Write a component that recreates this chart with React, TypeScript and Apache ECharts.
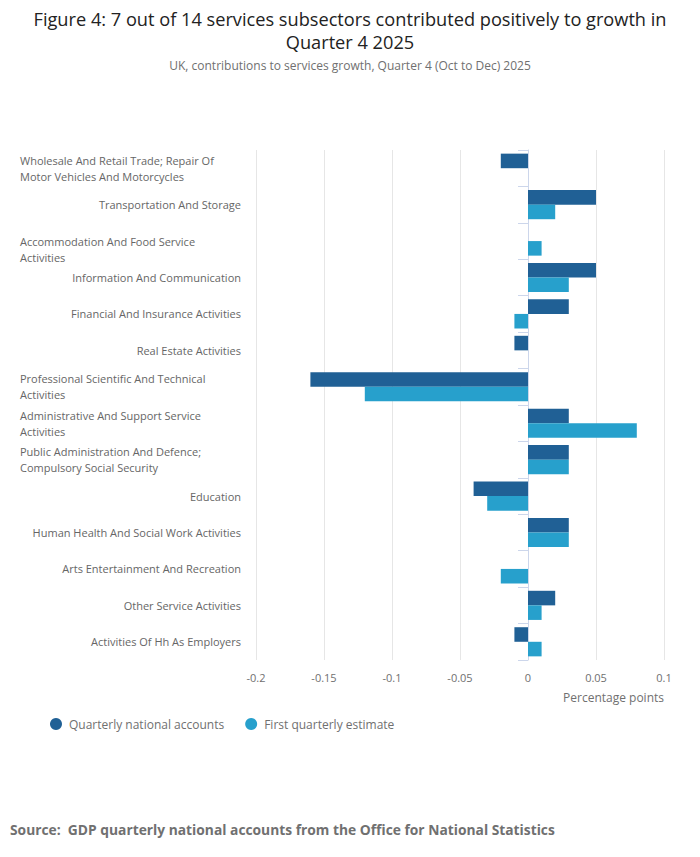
import { useEffect, useRef } from "react";
import * as echarts from "echarts";

const FONT = "'Open Sans', 'Noto Sans', sans-serif";
const DARK = "#206095";
const LIGHT = "#27a0cc";

const categories = [
  "Wholesale And Retail Trade; Repair Of\nMotor Vehicles And Motorcycles",
  "Transportation And Storage",
  "Accommodation And Food Service\nActivities",
  "Information And Communication",
  "Financial And Insurance Activities",
  "Real Estate Activities",
  "Professional Scientific And Technical\nActivities",
  "Administrative And Support Service\nActivities",
  "Public Administration And Defence;\nCompulsory Social Security",
  "Education",
  "Human Health And Social Work Activities",
  "Arts Entertainment And Recreation",
  "Other Service Activities",
  "Activities Of Hh As Employers",
];

const quarterlyNational = [-0.02, 0.05, 0, 0.05, 0.03, -0.01, -0.16, 0.03, 0.03, -0.04, 0.03, 0, 0.02, -0.01];
const firstEstimate = [0, 0.02, 0.01, 0.03, -0.01, 0, -0.12, 0.08, 0.03, -0.03, 0.03, -0.02, 0.01, 0.01];

const seriesNames = ["Quarterly national accounts", "First quarterly estimate"];

// the accommodation label sits half a block lower in the original
const LOWERED_LABEL = 2;

function formatCategory(value: string, index: number) {
  if (value.includes("\n")) {
    const lines = value.split("\n").map((line) => `{l|${line}}`);
    if (index === LOWERED_LABEL) {
      lines.unshift("{e| }");
    }
    return lines.join("\n");
  }
  return `{s|${value}}`;
}

export default function App() {
  const chartRef = useRef<HTMLDivElement>(null);

  useEffect(() => {
    document.body.style.margin = "0";
    if (!chartRef.current) {
      return;
    }
    const chart = echarts.init(chartRef.current, null, { renderer: "svg" });

    const labelText = {
      fontSize: 11,
      lineHeight: 16,
      color: "#666666",
      fontFamily: FONT,
    };

    chart.setOption({
      animation: false,
      textStyle: { fontFamily: FONT },
      title: {
        text: "Figure 4: 7 out of 14 services subsectors contributed positively to growth in\nQuarter 4 2025",
        subtext: "UK, contributions to services growth, Quarter 4 (Oct to Dec) 2025",
        left: "center",
        top: 2,
        itemGap: 6.5,
        textStyle: {
          fontFamily: FONT,
          fontSize: 18.2,
          fontWeight: "normal",
          color: "#222222",
          lineHeight: 23,
        },
        subtextStyle: {
          fontFamily: FONT,
          fontSize: 12,
          color: "#707070",
        },
      },
      legend: {
        left: 45,
        top: 713,
        icon: "circle",
        itemWidth: 12,
        itemHeight: 12,
        itemGap: 21,
        data: seriesNames,
        textStyle: { fontFamily: FONT, fontSize: 12, color: "#707070", padding: [0, 0, 0, 2] },
      },
      grid: {
        left: 256,
        right: 36,
        top: 150,
        bottom: 197,
        containLabel: false,
      },
      xAxis: {
        type: "value",
        min: -0.2,
        max: 0.1,
        interval: 0.05,
        axisLine: { show: false },
        axisTick: { show: false },
        axisLabel: {
          color: "#707070",
          fontSize: 11,
          margin: 12,
          formatter: (v: number) => String(Number(v.toFixed(2))),
        },
        splitLine: { lineStyle: { color: "#e6e6e6", width: 1 } },
      },
      yAxis: {
        type: "category",
        inverse: true,
        data: categories,
        axisLine: { show: true, lineStyle: { color: "#ccd6eb" } },
        axisTick: {
          show: true,
          length: 10,
          interval: 0,
          lineStyle: { color: "#ccd6eb" },
        },
        axisLabel: {
          interval: 0,
          margin: 15,
          color: "#666666",
          fontSize: 11,
          formatter: formatCategory,
          rich: {
            l: { ...labelText, width: 221, align: "left" },
            e: { ...labelText, width: 221 },
            s: { ...labelText },
          },
        },
      },
      graphic: [
        {
          type: "text",
          x: 664,
          y: 697,
          style: {
            text: "Percentage points",
            align: "right",
            verticalAlign: "middle",
            fontSize: 12,
            fill: "#707070",
            fontFamily: FONT,
          },
        },
        {
          type: "text",
          x: 10,
          y: 829,
          style: {
            text: "Source:  GDP quarterly national accounts from the Office for National Statistics",
            verticalAlign: "middle",
            fontSize: 13.8,
            fontWeight: "bold",
            fill: "#707070",
            fontFamily: FONT,
          },
        },
      ],
      series: [
        {
          name: seriesNames[0],
          type: "bar",
          data: quarterlyNational,
          itemStyle: { color: DARK },
          barGap: "0%",
          barCategoryGap: "20%",
        },
        {
          name: seriesNames[1],
          type: "bar",
          data: firstEstimate,
          itemStyle: { color: LIGHT },
          barGap: "0%",
          barCategoryGap: "20%",
        },
      ],
    });

    return () => {
      chart.dispose();
    };
  }, []);

  return <div ref={chartRef} style={{ width: 700, height: 857 }} />;
}
